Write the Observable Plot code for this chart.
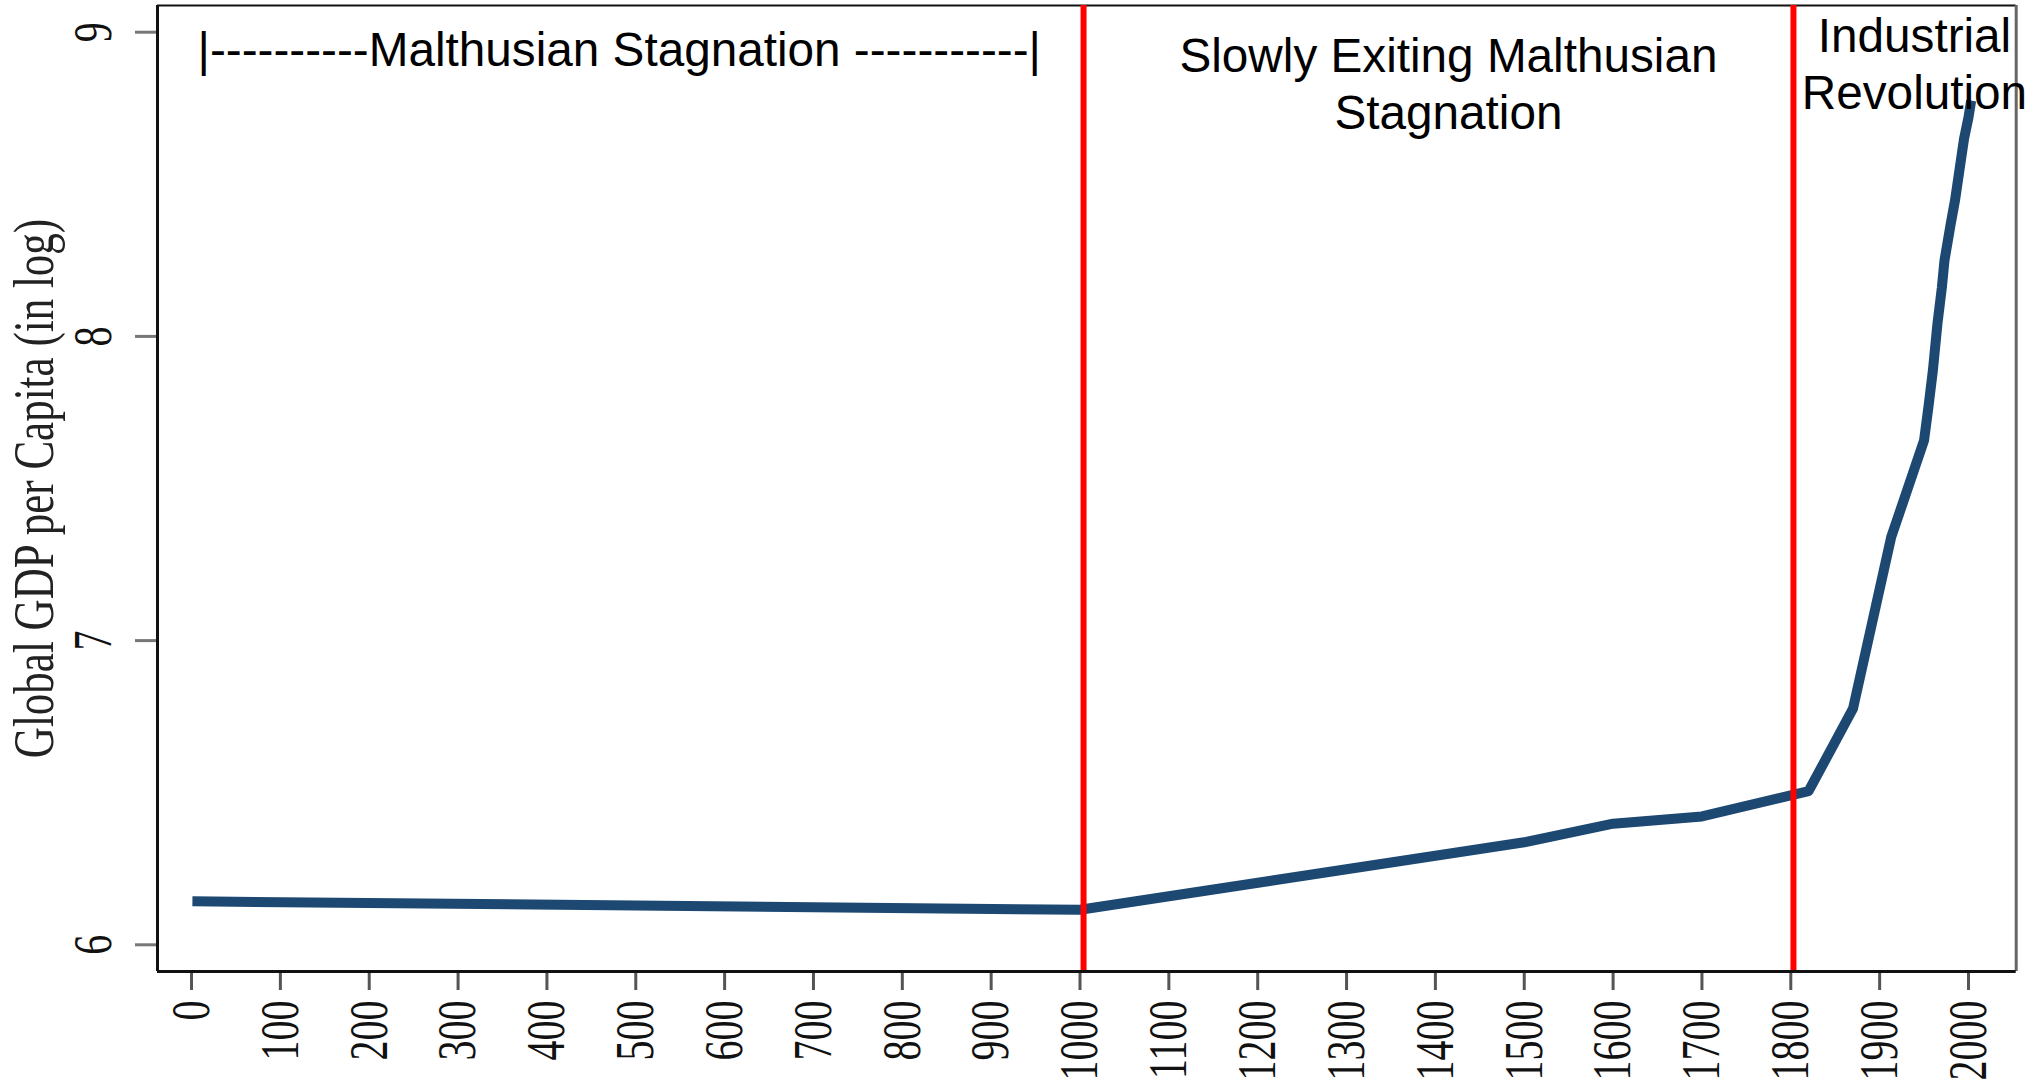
<!DOCTYPE html>
<html>
<head>
<meta charset="utf-8">
<script src="https://cdn.jsdelivr.net/npm/d3@7"></script>
<script src="https://cdn.jsdelivr.net/npm/@observablehq/plot@0.6"></script>
<style>
  html, body { margin: 0; padding: 0; background: #fff; }
  #chart { width: 2036px; height: 1083px; }
</style>
</head>
<body>
<div id="chart"></div>
<script>
// ---- data ----
const years = [1, 1000, 1500, 1600, 1700, 1820, 1870, 1913, 1950, 1955, 1960, 1965, 1970, 1973, 1980, 1985, 1990, 1995, 2000, 2003];
const lnGdp = [6.143, 6.115, 6.337, 6.398, 6.422, 6.505, 6.776, 7.340, 7.658, 7.77, 7.89, 8.04, 8.16, 8.25, 8.37, 8.45, 8.55, 8.65, 8.72, 8.775];

const xTicks = [0, 100, 200, 300, 400, 500, 600, 700, 800, 900, 1000, 1100, 1200, 1300, 1400, 1500, 1600, 1700, 1800, 1900, 2000];
const yTicks = [6, 7, 8, 9];
const xDomain = [-38.3, 2053.7];
const yDomain = [5.9122, 9.0878];

const eraBreaks = [1004, 1803];

const yLabel = "Global GDP per Capita (in log)";

const annoText = ["|----------Malthusian Stagnation -----------|", "Slowly Exiting Malthusian\nStagnation", "Industrial\nRevolution"];
const annoX = [6.75, 1414.7, 1939.2];
const annoY = [8.888, 8.6824, 8.7482];

// ---- tables built from the arrays ----
const series = years.map((year, i) => ({year, ln: lnGdp[i]}));
const annos = annoText.map((text, i) => ({text, x: annoX[i], y: annoY[i]}));

const serif = "Liberation Serif";
const sans = "Liberation Sans";

const chart = Plot.plot({
  width: 2036,
  height: 1083,
  marginLeft: 157,
  marginRight: 20.3,
  marginTop: 5,
  marginBottom: 112,
  style: {background: "white", overflow: "visible"},
  x: {domain: xDomain},
  y: {domain: yDomain},
  marks: [
    // frame pieces
    Plot.ruleY([yDomain[1]], {stroke: "#111", strokeWidth: 2}),
    Plot.ruleX([xDomain[1]], {stroke: "#666", strokeWidth: 3}),
    // axes
    Plot.axisX(xTicks, {
      stroke: "#555", strokeWidth: 3, tickSize: 19, tickPadding: 10,
      tickRotate: -90, textAnchor: "end", lineAnchor: "middle",
      tickFormat: d => String(d),
      fill: "#111", fontSize: 40, fontFamily: serif, label: null
    }),
    Plot.axisY(yTicks, {
      stroke: "#777", strokeWidth: 3, tickSize: 22, tickPadding: 25,
      tickRotate: -90, textAnchor: "middle", lineAnchor: "bottom",
      tickFormat: d => String(d),
      fill: "#111", fontSize: 40, fontFamily: serif, label: null
    }),
    Plot.text([yLabel], {
      text: d => d, frameAnchor: "left", dx: -105, rotate: -90,
      textAnchor: "middle", lineAnchor: "bottom",
      fontSize: 43, fontFamily: serif, fill: "#222"
    }),
    // data line
    Plot.line(series, {
      x: "year", y: "ln", stroke: "#1c4872", strokeWidth: 10,
      strokeLinecap: "butt", strokeLinejoin: "round"
    }),
    // era separators
    Plot.ruleX(eraBreaks, {stroke: "#ff0000", strokeWidth: 6}),
    // axis lines
    Plot.ruleX([xDomain[0]], {stroke: "#111", strokeWidth: 3}),
    Plot.ruleY([yDomain[0]], {stroke: "#111", strokeWidth: 3}),
    // annotations
    Plot.text(annos.slice(0, 1), {
      x: "x", y: "y", text: "text", textAnchor: "start", lineAnchor: "bottom",
      fontSize: 47.7, fontFamily: sans, fill: "#000"
    }),
    Plot.text(annos.slice(1), {
      x: "x", y: "y", text: "text", textAnchor: "middle", lineAnchor: "bottom",
      lineHeight: 1.2, fontSize: 47.7, fontFamily: sans, fill: "#000"
    })
  ]
});

// the reference's serif labels are stretched across their glyph height
chart.querySelectorAll('g[font-family="' + serif + '"] text').forEach(t => {
  const tr = t.getAttribute("transform") || "";
  t.setAttribute("transform", tr + " scale(1,1.35)");
});

document.getElementById("chart").appendChild(chart);
</script>
</body>
</html>
